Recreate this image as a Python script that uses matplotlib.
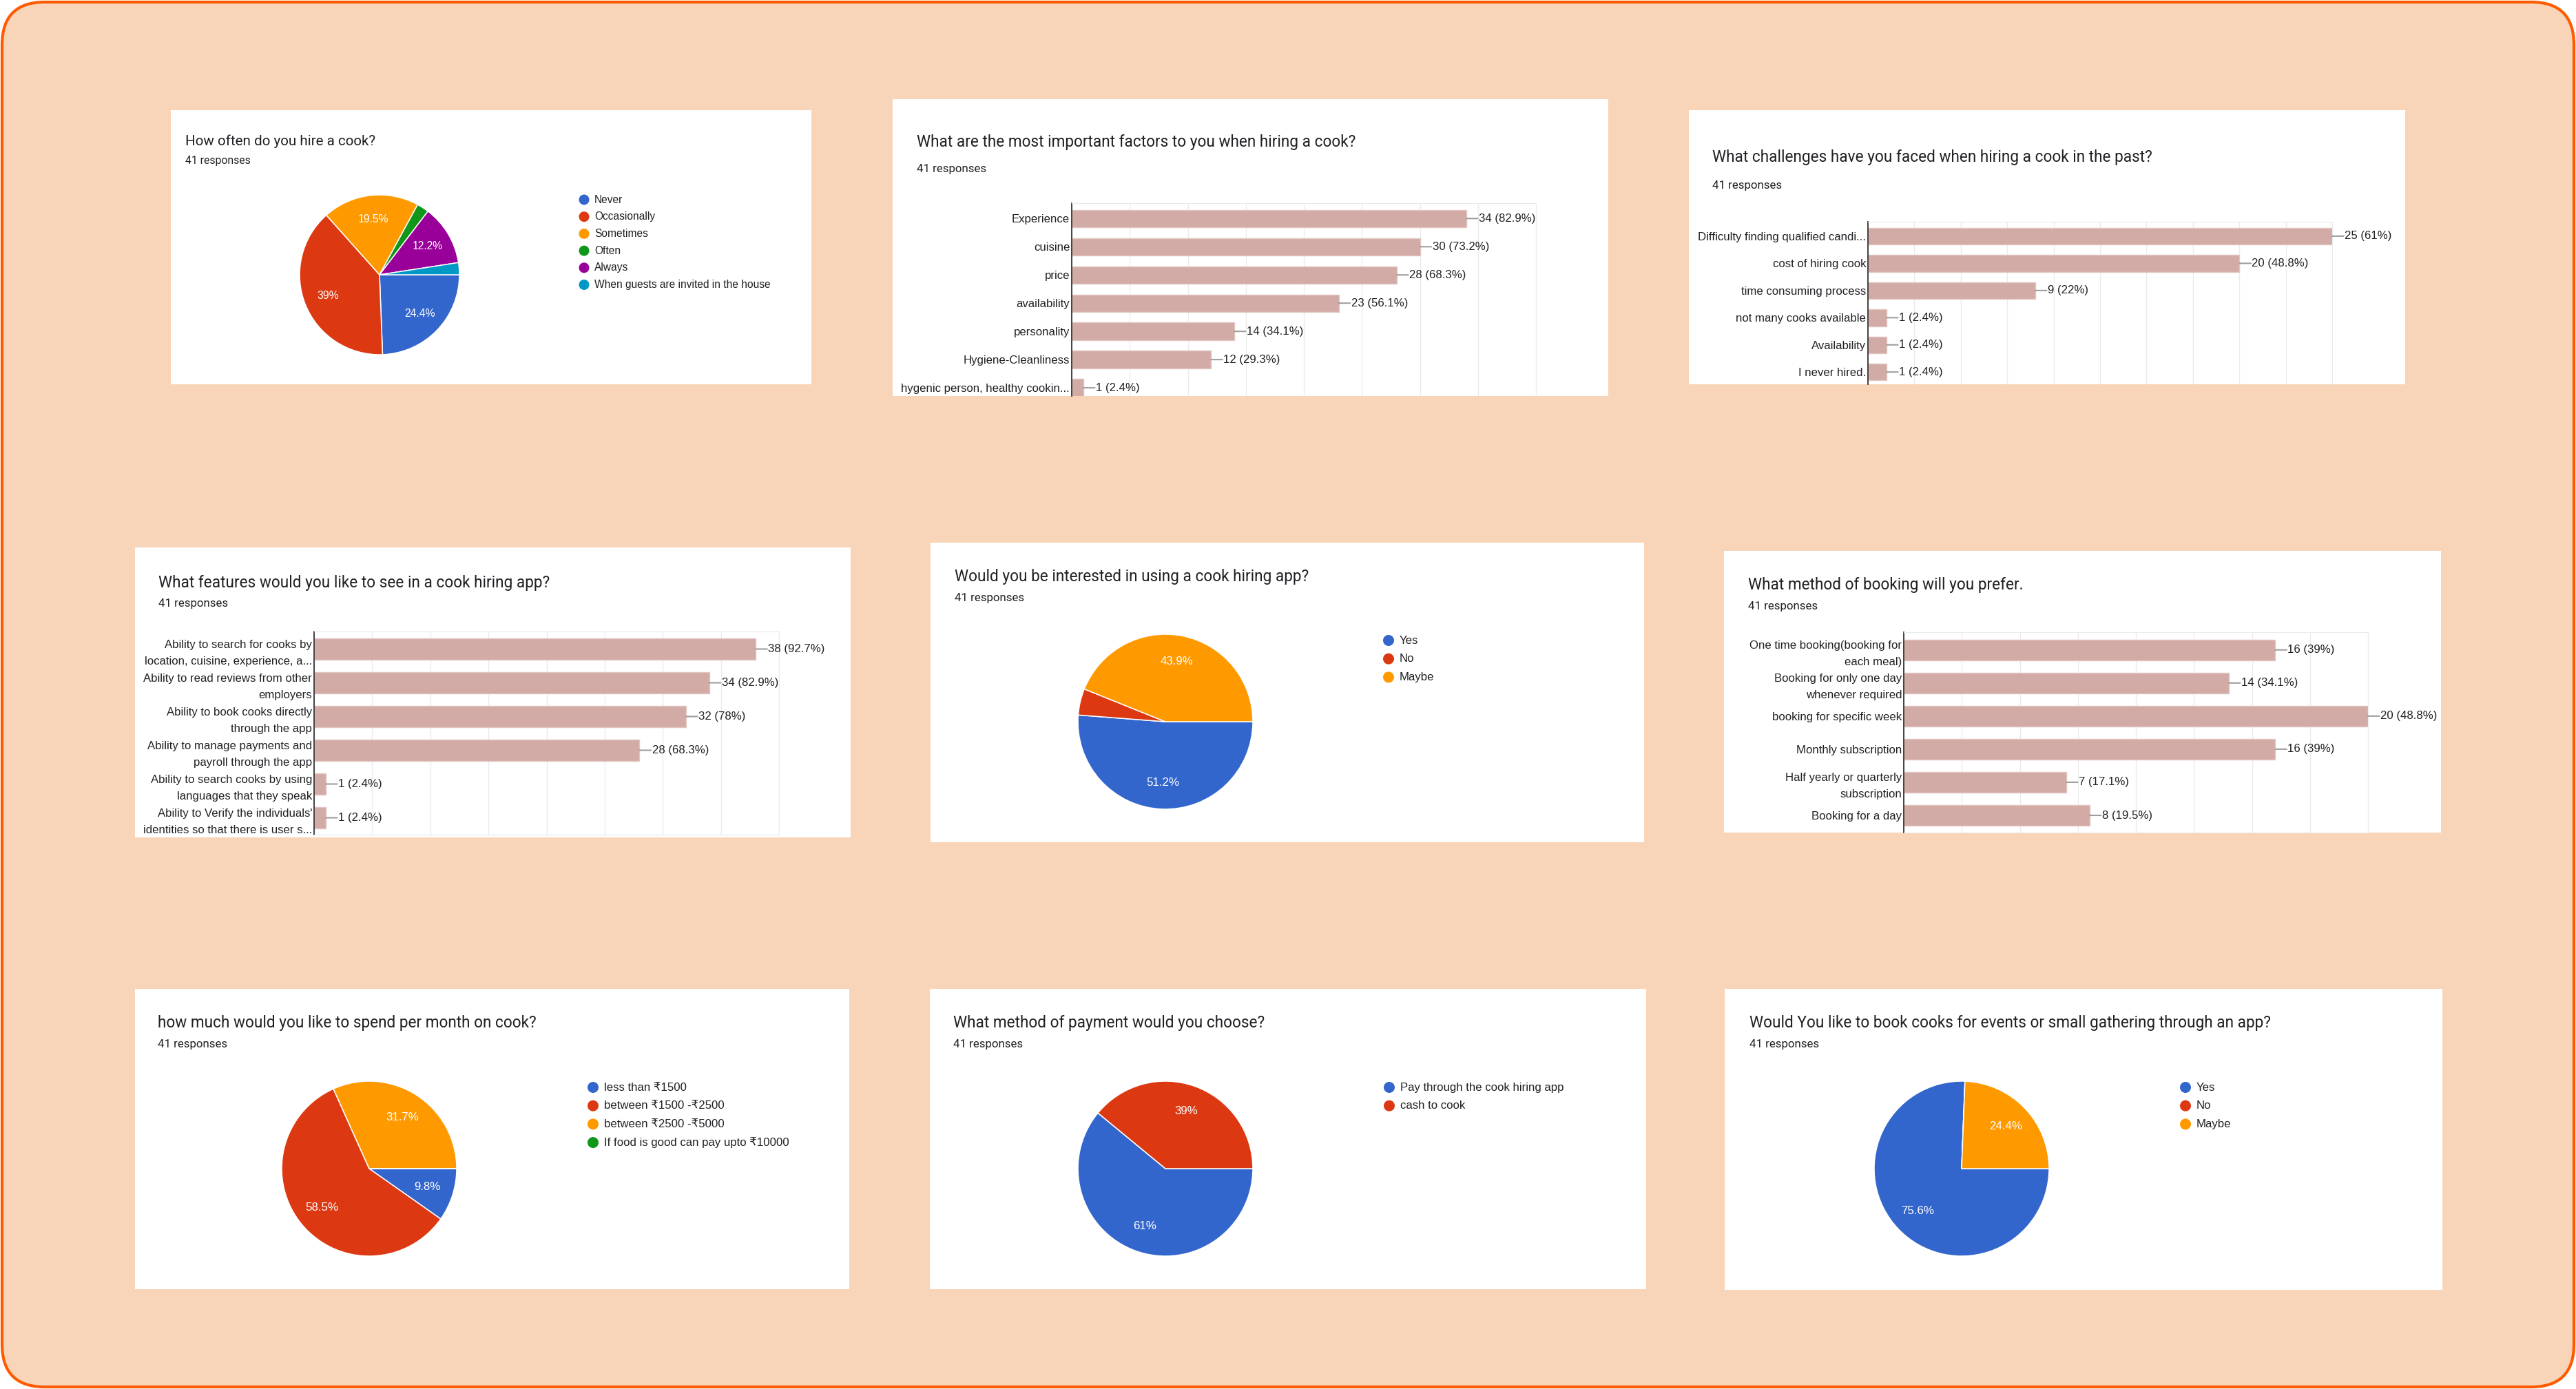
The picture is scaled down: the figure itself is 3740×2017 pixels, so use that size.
import numpy as np
import matplotlib.pyplot as plt
from matplotlib.patches import FancyBboxPatch, Rectangle, Ellipse

# chart text in Arial-like Liberation Sans, question headers in Roboto
plt.rcParams['font.family'] = ['Liberation Sans', 'DejaVu Sans']
HEAD = ['Roboto', 'DejaVu Sans']

W, H = 3740, 2017
TOTAL = 41

# --- survey data (41 responses) ---
hire_labels = ["Never", "Occasionally", "Sometimes", "Often", "Always",
               "When guests are invited in the house"]
hire_counts = [10, 16, 8, 1, 5, 1]

factor_labels = ["Experience", "cuisine", "price", "availability", "personality",
                 "Hygiene-Cleanliness", "hygenic person, healthy cookin..."]
factor_counts = [34, 30, 28, 23, 14, 12, 1]

challenge_labels = ["Difficulty finding qualified candi...", "cost of hiring cook",
                    "time consuming process", "not many cooks available",
                    "Availability", "I never hired."]
challenge_counts = [25, 20, 9, 1, 1, 1]

feature_labels = ["Ability to search for cooks by\nlocation, cuisine, experience, a...",
                  "Ability to read reviews from other\nemployers",
                  "Ability to book cooks directly\nthrough the app",
                  "Ability to manage payments and\npayroll through the app",
                  "Ability to search cooks by using\nlanguages that they speak",
                  "Ability to Verify the individuals'\nidentities so that there is user s..."]
feature_counts = [38, 34, 32, 28, 1, 1]

interest_labels = ["Yes", "No", "Maybe"]
interest_counts = [21, 2, 18]

booking_labels = ["One time booking(booking for\neach meal)",
                  "Booking for only one day\nwhenever required",
                  "booking for specific week", "Monthly subscription",
                  "Half yearly or quarterly\nsubscription", "Booking for a day"]
booking_counts = [16, 14, 20, 16, 7, 8]

spend_labels = ["less than ₹1500", "between ₹1500 -₹2500", "between ₹2500 -₹5000",
                "If food is good can pay upto ₹10000"]
spend_counts = [4, 24, 13, 0]

payment_labels = ["Pay through the cook hiring app", "cash to cook"]
payment_counts = [25, 16]

events_labels = ["Yes", "No", "Maybe"]
events_counts = [31, 0, 10]

BLUE, RED, ORANGE, GREEN, PURPLE, CYAN = "#3366cc", "#dc3912", "#ff9900", "#109618", "#990099", "#0099c6"
BAR = "#d3aba6"
INK = "#202124"


def pct(c):
    s = f"{c / TOTAL * 100:.1f}"
    return (s[:-2] if s.endswith(".0") else s) + "%"


fig = plt.figure(figsize=(W / 100, H / 100), dpi=100)
bg = fig.add_axes([0, 0, 1, 1])
bg.set_xlim(0, W)
bg.set_ylim(H, 0)
bg.axis("off")
bg.add_patch(FancyBboxPatch((3, 3), W - 6, H - 6, boxstyle="round,pad=0,rounding_size=62",
                            fc="#f8d5b9", ec="#ff5a00", lw=3))


def box(x0, y0, x1, y1):
    return [x0 / W, 1 - y1 / H, (x1 - x0) / W, (y1 - y0) / H]


def panel(rect, title, tx, ty, sy, fs=16.3, sfs=12.2):
    x0, y0, x1, y1 = rect
    bg.add_patch(Rectangle((x0, y0), x1 - x0, y1 - y0, fc="white", ec="none"))
    bg.text(tx, ty, title, fontsize=fs, va="center", color=INK, family=HEAD)
    bg.text(tx, sy, f"{TOTAL} responses", fontsize=sfs, va="center", color=INK, family=HEAD)


def pie_chart(cx, cy, r, counts, colors, labels, lx, ly, dy, fs=12.2, lfs=12.1, dot=16):
    ax = fig.add_axes(box(cx - r, cy - r, cx + r, cy + r))
    wedges, _ = ax.pie(counts, colors=colors, startangle=0, counterclock=False,
                       wedgeprops=dict(edgecolor="white", linewidth=1.1, clip_on=False))
    ax.set_xlim(-1, 1)
    ax.set_ylim(-1, 1)
    for w, c in zip(wedges, counts):
        if c / TOTAL < 0.05:
            continue
        a = np.deg2rad((w.theta1 + w.theta2) / 2)
        ax.text(0.7 * np.cos(a), 0.7 * np.sin(a), pct(c), color="white",
                fontsize=fs, ha="center", va="center")
    for i, (lab, col) in enumerate(zip(labels, colors)):
        bg.add_patch(Ellipse((lx, ly + i * dy), dot, dot, fc=col, ec="none"))
        bg.text(lx + dot, ly + i * dy, lab, fontsize=lfs, va="center", color=INK)


def bar_chart(rect, labels, counts, xmax, step, ylim, cut=False):
    ax = fig.add_axes(box(*rect))
    y = np.arange(len(counts))
    ax.barh(y, counts, height=0.62, color=BAR, edgecolor="#e2c6c1", linewidth=1, zorder=2)
    ax.set_xlim(0, xmax)
    ax.set_ylim(*ylim)
    ax.set_xticks(np.arange(0, xmax + step / 2, step))
    ax.tick_params(axis="x", length=0, labelbottom=False)
    ax.grid(axis="x", color="#ebebeb", lw=1)
    ax.set_axisbelow(True)
    ax.set_yticks(y, labels, fontsize=12.1, color=INK)
    ax.tick_params(axis="y", length=0, pad=2)
    for t in ax.get_yticklabels():
        t.set_linespacing(1.75)
    for s in ["top", "right", "bottom"]:
        ax.spines[s].set_color("#ebebeb")
    ax.spines["bottom"].set_visible(not cut)
    ax.spines["left"].set_color("#333333")
    ax.spines["left"].set_linewidth(1.3)
    for yi, c in zip(y, counts):
        ax.annotate("", xy=(c, yi), xytext=(12, 0), textcoords="offset points",
                    annotation_clip=False,
                    arrowprops=dict(arrowstyle="-", color="#9e9e9e", lw=1.5, shrinkA=0, shrinkB=0))
        ax.annotate(f"{c} ({pct(c)})", xy=(c, yi), xytext=(13, 0), textcoords="offset points",
                    va="center", fontsize=12.1, color=INK, annotation_clip=False)


# row 1
panel((248, 160, 1178, 558), "How often do you hire a cook?", 269, 205, 233, fs=14.9, sfs=11.3)
pie_chart(551, 399, 116, hire_counts, [BLUE, RED, ORANGE, GREEN, PURPLE, CYAN],
          hire_labels, 848, 290, 24.7, fs=11.3, lfs=11.2, dot=15)

panel((1296, 144, 2335, 575), "What are the most important factors to you when hiring a cook?",
      1331, 206, 245)
bar_chart((1556, 295, 2230, 575), factor_labels, factor_counts, 40, 5, (6.29, -0.544), cut=True)

panel((2452, 160, 3492, 558), "What challenges have you faced when hiring a cook in the past?",
      2486, 228, 269)
bar_chart((2712, 322, 3386, 558), challenge_labels, challenge_counts, 25, 2.5, (5.45, -0.53), cut=True)

# row 2
panel((196, 795, 1235, 1216), "What features would you like to see in a cook hiring app?",
      230, 846, 876)
bar_chart((456, 917, 1131, 1212), feature_labels, feature_counts, 40, 5, (5.5, -0.52))

panel((1351, 788, 2387, 1223), "Would you be interested in using a cook hiring app?",
      1386, 837, 868)
pie_chart(1692, 1048, 127, interest_counts, [BLUE, RED, ORANGE],
          interest_labels, 2016, 930, 26.7)

panel((2503, 800, 3544, 1209), "What method of booking will you prefer.", 2538, 849, 880)
bar_chart((2764, 918, 3438, 1209), booking_labels, booking_counts, 20, 2.5, (5.52, -0.535))

# row 3
panel((196, 1436, 1233, 1872), "how much would you like to spend per month on cook?",
      229, 1485, 1516)
pie_chart(536, 1697, 127, spend_counts, [BLUE, RED, ORANGE, GREEN],
          spend_labels, 861, 1579, 26.7)

panel((1350, 1436, 2390, 1872), "What method of payment would you choose?", 1384, 1485, 1516)
pie_chart(1692, 1697, 127, payment_counts, [BLUE, RED],
          payment_labels, 2017, 1579, 26.7)

panel((2504, 1436, 3546, 1873),
      "Would You like to book cooks for events or small gathering through an app?",
      2540, 1485, 1516)
pie_chart(2848, 1697, 127, events_counts, [BLUE, RED, ORANGE],
          events_labels, 3173, 1579, 26.7)

fig.savefig("out.png", dpi=100)
